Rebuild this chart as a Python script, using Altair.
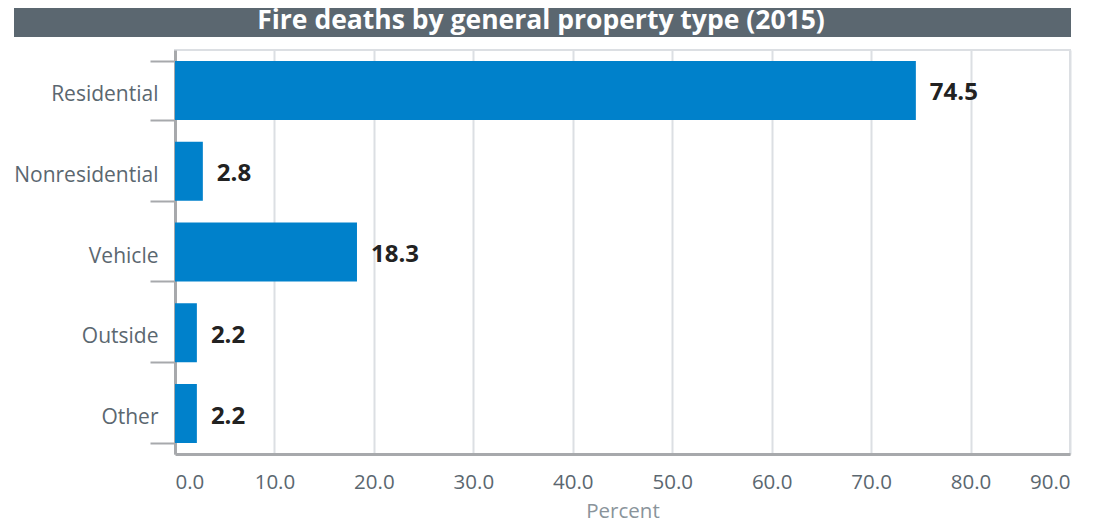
import altair as alt
import pandas as pd

categories = ["Residential", "Nonresidential", "Vehicle", "Outside", "Other"]
values = [74.5, 2.8, 18.3, 2.2, 2.2]
x_ticks = [0, 10, 20, 30, 40, 50, 60, 70, 80, 90]
title_text = "Fire deaths by general property type (2015)"

df = pd.DataFrame({"type": categories, "pct": values})

W, H = 895, 404
FONT = "Open Sans"

y_enc = alt.Y("type:N", sort=categories, title=None,
              scale=alt.Scale(paddingInner=0.27, paddingOuter=0.135),
              axis=alt.Axis(tickBand="extent", tickSize=25, tickWidth=2, tickColor="#a7a9ac",
                            domainColor="#a7a9ac", domainWidth=3, labelPadding=-8, labelOffset=4,
                            labelFont=FONT, labelFontSize=21, labelColor="#5b6770",
                            grid=False))
x_enc = alt.X("pct:Q", title="Percent",
              scale=alt.Scale(domain=[0, 90], nice=False),
              axis=alt.Axis(values=x_ticks, format=".1f", ticks=False, labelPadding=18,
                            labelFont=FONT, labelFontSize=20.5, labelColor="#5b6770",
                            titleFont=FONT, titleFontSize=20.5, titleFontWeight="normal",
                            titleColor="#8a949b", titlePadding=9,
                            domainColor="#a7a9ac", domainWidth=3,
                            grid=True, gridColor="#dcdfe3", gridWidth=2))

bars = alt.Chart(df).mark_bar(color="#0081cb").encode(x=x_enc, y=y_enc)
labels = alt.Chart(df).mark_text(align="left", baseline="middle", dx=14, dy=3, font=FONT,
                                 fontSize=24, fontWeight="bold", color="#222222").encode(
    x="pct:Q", y=alt.Y("type:N", sort=categories), text=alt.Text("pct:Q", format=".1f"))

title_bg = alt.Chart(pd.DataFrame({"t": [title_text]})).mark_rect(color="#5b6770").encode(
    x=alt.value(-161), x2=alt.value(896), y=alt.value(-42), y2=alt.value(-13))
title_lbl = alt.Chart(pd.DataFrame({"t": [title_text]})).mark_text(
    color="white", font=FONT, fontSize=26.5, fontWeight="bold", align="center", baseline="alphabetic").encode(
    x=alt.value(366), y=alt.value(-21), text="t:N")

chart = alt.layer(title_bg, title_lbl, bars, labels).properties(
    width=W, height=H,
    autosize=alt.AutoSizeParams(type="none"),
    padding={"left": 167, "top": 42, "right": 18, "bottom": 70}
).configure_view(stroke="#dcdfe3", strokeWidth=2)

chart.save("out.html", embed_options={"renderer": "svg", "actions": False})
